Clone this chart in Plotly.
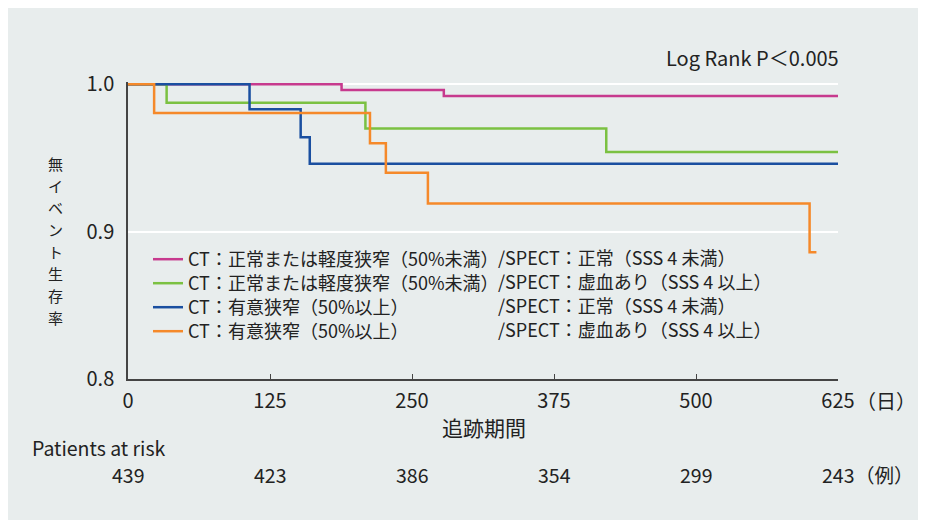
import plotly.graph_objects as go

# ---- data ----
days_pink = [0, 188, 278, 625]
surv_pink = [1.0, 0.996, 0.992, 0.992]
days_green = [0, 34, 209, 421, 625]
surv_green = [1.0, 0.9875, 0.970, 0.954, 0.954]
days_blue = [0, 107, 152, 160, 625]
surv_blue = [1.0, 0.983, 0.964, 0.946, 0.946]
days_orange = [0, 23, 213, 227, 264, 600, 606]
surv_orange = [1.0, 0.9805, 0.960, 0.940, 0.919, 0.886, 0.886]

ct_labels = ["CT：正常または軽度狭窄（50%未満）", "CT：正常または軽度狭窄（50%未満）",
             "CT：有意狭窄（50%以上）", "CT：有意狭窄（50%以上）"]
spect_labels = ["/SPECT：正常（SSS 4 未満）", "/SPECT：虚血あり（SSS 4 以上）",
                "/SPECT：正常（SSS 4 未満）", "/SPECT：虚血あり（SSS 4 以上）"]
colors = ["#c73a8e", "#7bc142", "#1a4fa0", "#f5892a"]

x_ticks = [0, 125, 250, 375, 500, 625]
y_ticks = [0.8, 0.9, 1.0]
y_tick_text = ["0.8", "0.9", "1.0"]
risk_days = [0, 125, 250, 375, 500, 625]
risk_counts = [439, 423, 386, 354, 299, 243]
y_title = "無イベント生存率"

FONT = "Noto Sans CJK JP"
TXT = "#222222"
BG = "#e8eded"
W, H = 926, 520
ML, MR, MT, MB = 120, 96, 74, 149
PW, PH = W - ML - MR, H - MT - MB

def px_x(px):
    return (px - ML) / PW

def px_y(py):
    return (H - MB - py) / PH

series = [(days_pink, surv_pink), (days_green, surv_green),
          (days_blue, surv_blue), (days_orange, surv_orange)]
legend_ids = ["legend", "legend2", "legend3", "legend4"]

fig = go.Figure()
for (d, s), name, c, lg in zip(series, ct_labels, colors, legend_ids):
    fig.add_trace(go.Scatter(x=d, y=s, mode="lines", line_shape="hv",
                             line=dict(color=c, width=2.5), name=name, legend=lg))

ann = []
ann.append(dict(text="Log Rank P＜0.005", xref="paper", yref="paper",
                x=px_x(833), y=px_y(50), xanchor="right", yanchor="middle",
                showarrow=False, font=dict(size=20, color=TXT)))
ann.append(dict(text="（日）", xref="paper", yref="paper",
                x=px_x(846), y=px_y(393), xanchor="left", yanchor="middle",
                showarrow=False, font=dict(size=20, color=TXT)))
ann.append(dict(text="追跡期間", xref="paper", yref="paper",
                x=px_x(476), y=px_y(419), xanchor="center", yanchor="middle",
                showarrow=False, font=dict(size=21, color=TXT), borderpad=0))
ann.append(dict(text="Patients at risk", xref="paper", yref="paper",
                x=px_x(23), y=px_y(439.5), xanchor="left", yanchor="middle",
                showarrow=False, font=dict(size=19.5, color=TXT), borderpad=0))
for d, n in zip(risk_days, risk_counts):
    ann.append(dict(text=str(n), xref="x", yref="paper", x=d, y=px_y(466),
                    xanchor="center", yanchor="middle", showarrow=False,
                    font=dict(size=19.5, color=TXT), borderpad=0))
ann.append(dict(text="（例）", xref="paper", yref="paper",
                x=px_x(846), y=px_y(466), xanchor="left", yanchor="middle",
                showarrow=False, font=dict(size=19.5, color=TXT), borderpad=0))
for i, ch in enumerate(y_title):
    ann.append(dict(text=ch, xref="paper", yref="paper",
                    x=px_x(47), y=px_y(232.5 + (i - 3.5) * 22.0), xanchor="center",
                    yanchor="middle", showarrow=False, borderpad=0,
                    font=dict(size=15, color=TXT)))
for i, t in enumerate(spect_labels):
    ann.append(dict(text=t, xref="paper", yref="paper",
                    x=px_x(488), y=px_y(249 + 24 * i), xanchor="left", yanchor="middle",
                    showarrow=False, font=dict(size=18, color=TXT)))

legends = {}
for i, lg in enumerate(legend_ids):
    legends[lg] = dict(x=px_x(140), y=px_y(233 + 24 * i), xanchor="left",
                       yanchor="top", bgcolor="rgba(0,0,0,0)",
                       font=dict(size=18, color=TXT), itemwidth=30)

fig.update_layout(
    width=W, height=H,
    margin=dict(l=ML, r=MR, t=MT, b=MB),
    paper_bgcolor=BG, plot_bgcolor=BG,
    font=dict(family=FONT, color=TXT, size=20),
    showlegend=True,
    annotations=ann,
    **legends,
)
fig.update_xaxes(range=[0, 625], tickvals=x_ticks, ticks="inside", ticklen=5,
                 tickcolor="#444", tickwidth=1.2, showline=True, linecolor="#444",
                 linewidth=1.5, showgrid=False, zeroline=False,
                 ticklabelstandoff=3, tickfont=dict(size=20, color=TXT))
fig.update_yaxes(range=[0.8, 1.0015], tickvals=y_ticks, ticktext=y_tick_text,
                 ticks="", showline=True, linecolor="#444", linewidth=1.5,
                 showgrid=True, gridcolor="white", gridwidth=2, zeroline=False,
                 ticklabelstandoff=8, tickfont=dict(size=20, color=TXT))

fig.write_html("out.html")
